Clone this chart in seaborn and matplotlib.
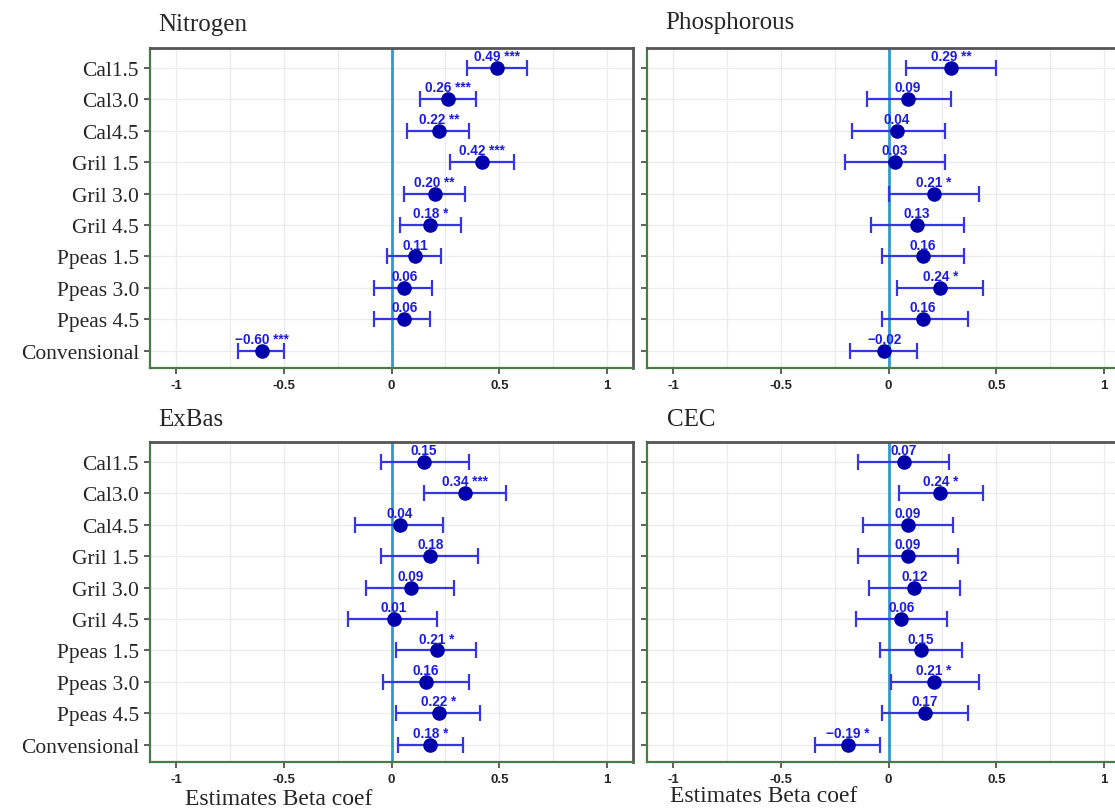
import numpy as np
import pandas as pd
import matplotlib
matplotlib.use("Agg")
import matplotlib.pyplot as plt
from matplotlib.ticker import MultipleLocator
import seaborn as sns

# treatments, top to bottom
labels = ["Cal1.5", "Cal3.0", "Cal4.5", "Gril 1.5", "Gril 3.0", "Gril 4.5",
          "Ppeas 1.5", "Ppeas 3.0", "Ppeas 4.5", "Convensional"]

nitrogen_est = [0.49, 0.26, 0.22, 0.42, 0.20, 0.18, 0.11, 0.06, 0.06, -0.60]
nitrogen_lo = [0.35, 0.13, 0.07, 0.27, 0.06, 0.04, -0.02, -0.08, -0.08, -0.71]
nitrogen_hi = [0.63, 0.39, 0.36, 0.57, 0.34, 0.32, 0.23, 0.19, 0.18, -0.50]
nitrogen_sig = ["***", "***", "**", "***", "**", "*", "", "", "", "***"]

phos_est = [0.29, 0.09, 0.04, 0.03, 0.21, 0.13, 0.16, 0.24, 0.16, -0.02]
phos_lo = [0.08, -0.10, -0.17, -0.20, 0.00, -0.08, -0.03, 0.04, -0.03, -0.18]
phos_hi = [0.50, 0.29, 0.26, 0.26, 0.42, 0.35, 0.35, 0.44, 0.37, 0.13]
phos_sig = ["**", "", "", "", "*", "", "", "*", "", ""]

exbas_est = [0.15, 0.34, 0.04, 0.18, 0.09, 0.01, 0.21, 0.16, 0.22, 0.18]
exbas_lo = [-0.05, 0.15, -0.17, -0.05, -0.12, -0.20, 0.02, -0.04, 0.02, 0.03]
exbas_hi = [0.36, 0.53, 0.24, 0.40, 0.29, 0.21, 0.39, 0.36, 0.41, 0.33]
exbas_sig = ["", "***", "", "", "", "", "*", "", "*", "*"]

cec_est = [0.07, 0.24, 0.09, 0.09, 0.12, 0.06, 0.15, 0.21, 0.17, -0.19]
cec_lo = [-0.14, 0.05, -0.12, -0.14, -0.09, -0.15, -0.04, 0.01, -0.03, -0.34]
cec_hi = [0.28, 0.44, 0.30, 0.32, 0.33, 0.27, 0.34, 0.42, 0.37, -0.04]
cec_sig = ["", "*", "", "", "", "", "", "*", "", "*"]

xticks = [-1, -0.5, 0, 0.5, 1]
xtick_labels = ["-1", "-0.5", "0", "0.5", "1"]

sns.set_style("white")
plt.rcParams['font.family'] = ['Liberation Sans', 'DejaVu Sans']

SERIF = ['Liberation Serif', 'DejaVu Serif']
POINT_COL = '#0000aa'
BAR_COL = '#3535e6'
TEXT_COL = '#1c1ce0'


def forest_panel(ax, est, lo, hi, sig, show_labels):
    """One coefficient panel"""
    df = pd.DataFrame({'est': est, 'lo': lo, 'hi': hi, 'sig': sig,
                       'pos': np.arange(len(labels))})

    ax.axvline(0, color='#3399cc', lw=2, zorder=1)
    ax.errorbar(df['est'], df['pos'],
                xerr=[df['est'] - df['lo'], df['hi'] - df['est']],
                fmt='none', ecolor=BAR_COL, elinewidth=1.6, capsize=5.8,
                capthick=1.6, zorder=2)
    sns.scatterplot(data=df, x='est', y='pos', ax=ax, color=POINT_COL, s=110,
                    edgecolor=POINT_COL, linewidth=0, zorder=3, legend=False)

    for _, r in df.iterrows():
        txt = f"{r['est']:.2f}".replace('-', '\u2212')
        if r['sig']:
            txt += " " + r['sig']
        ax.annotate(txt, (r['est'], r['pos']), xytext=(0, 3.5),
                    textcoords='offset points', ha='center', va='bottom',
                    color=TEXT_COL, fontsize=9.8, fontweight='bold', zorder=4)

    ax.set_xlim(-1.12, 1.12)
    ax.set_ylim(9.55, -0.63)
    ax.set_xticks(xticks)
    ax.set_xticklabels(xtick_labels, fontsize=9.5, fontweight='bold')
    ax.xaxis.set_minor_locator(MultipleLocator(0.25))
    ax.set_yticks(np.arange(len(labels)))
    if show_labels:
        ax.set_yticklabels(labels, family=SERIF, fontsize=15.5)
    else:
        ax.set_yticklabels([])
    ax.grid(True, which='both', axis='x', color='#ebebeb', lw=0.9)
    ax.grid(True, which='major', axis='y', color='#ebebeb', lw=0.9)
    ax.set_axisbelow(True)
    ax.tick_params(axis='both', which='major', length=4, width=1.2,
                   color='#444444', left=True, bottom=True, pad=4)
    ax.tick_params(axis='x', which='minor', length=0)
    ax.set_xlabel('')
    ax.set_ylabel('')
    for side in ['left', 'bottom']:
        ax.spines[side].set_color('#4a7a4a')
        ax.spines[side].set_linewidth(1.6)
    for side in ['top', 'right']:
        ax.spines[side].set_color('#555555')
        ax.spines[side].set_linewidth(2)


fig = plt.figure(figsize=(11.15, 8.12), dpi=100)
W, H = 1115, 812

def add_axes(x0, y0, x1, y1):
    return fig.add_axes([x0 / W, (H - y1) / H, (x1 - x0) / W, (y1 - y0) / H])

ax_n = add_axes(150, 49, 633, 369)
ax_p = add_axes(647, 49, 1130, 369)
ax_e = add_axes(150, 443, 633, 763)
ax_c = add_axes(647, 443, 1130, 763)

forest_panel(ax_n, nitrogen_est, nitrogen_lo, nitrogen_hi, nitrogen_sig, True)
forest_panel(ax_p, phos_est, phos_lo, phos_hi, phos_sig, False)
forest_panel(ax_e, exbas_est, exbas_lo, exbas_hi, exbas_sig, True)
forest_panel(ax_c, cec_est, cec_lo, cec_hi, cec_sig, False)

# panel titles
fig.text(158 / W, 1 - 25 / H, "Nitrogen", family=SERIF, fontsize=18, va='center')
fig.text(665 / W, 1 - 23 / H, "Phosphorous", family=SERIF, fontsize=18, va='center')
fig.text(158 / W, 1 - 420 / H, "ExBas", family=SERIF, fontsize=18, va='center')
fig.text(667 / W, 1 - 420 / H, "CEC", family=SERIF, fontsize=18, va='center')

# x axis captions
fig.text(185 / W, 1 - 800 / H, "Estimates Beta coef", family=SERIF, fontsize=17, va='center')
fig.text(670 / W, 1 - 797 / H, "Estimates Beta coef", family=SERIF, fontsize=17, va='center')

plt.savefig('out.png', dpi=100)
